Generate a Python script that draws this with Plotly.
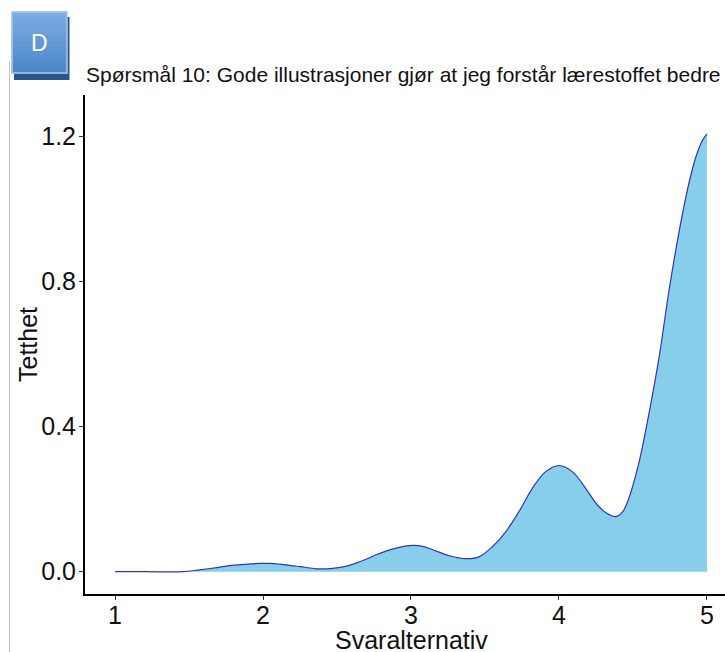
import plotly.graph_objects as go

# Density estimate of the answers to question 10 (Likert scale 1-5)
svar = [1.00, 1.20, 1.46, 1.57, 1.70, 1.80, 1.90, 1.98, 2.05, 2.11, 2.25, 2.36,
        2.47, 2.55, 2.61, 2.70, 2.76, 2.88, 2.99, 3.08, 3.15, 3.26, 3.37, 3.46,
        3.55, 3.64, 3.73, 3.82, 3.91, 4.00, 4.09, 4.18, 4.26, 4.32, 4.385, 4.43,
        4.47, 4.54, 4.61, 4.68, 4.74, 4.81, 4.88, 4.93, 4.97, 5.00]
tetthet = [0.000, 0.000, 0.000, 0.005, 0.012, 0.018, 0.021, 0.023, 0.023, 0.021,
           0.014, 0.008, 0.009, 0.014, 0.021, 0.035, 0.046, 0.063, 0.072, 0.070,
           0.060, 0.044, 0.036, 0.041, 0.069, 0.110, 0.166, 0.230, 0.276, 0.293,
           0.276, 0.230, 0.184, 0.162, 0.152, 0.165, 0.200, 0.300, 0.440, 0.600,
           0.766, 0.934, 1.075, 1.150, 1.190, 1.208]

x_ticks = [1, 2, 3, 4, 5]
y_ticks = [0.0, 0.4, 0.8, 1.2]
y_tick_labels = ["0.0", "0.4", "0.8", "1.2"]

title = "Spørsmål 10: Gode illustrasjoner gjør at jeg forstår lærestoffet bedre"
x_title = "Svaralternativ"
y_title = "Tetthet"
badge = "D"

W, H = 725, 652
L, R, T, B = 85, 0, 95, 58
FONT = "Liberation Sans, Arial, sans-serif"

fig = go.Figure()
fig.add_trace(go.Scatter(
    x=svar, y=tetthet, mode="lines", fill="tozeroy",
    fillcolor="#87CEEB", line=dict(color="#3434b4", width=1.2, shape="spline"),
    hoverinfo="skip", showlegend=False,
))

# pixel -> paper coordinate helpers for the decorations outside the plot area
pw, ph = W - L - R, H - T - B
def px(x):
    return (x - L) / pw
def py(y):
    return (H - B - y) / ph

shapes = []
# thin grey page rule on the far left
shapes.append(dict(type="line", xref="paper", yref="paper",
                   x0=px(9.5), x1=px(9.5), y0=py(61), y1=py(H + 5),
                   line=dict(color="#c4c4c4", width=1), layer="above"))
# badge shadow
shapes.append(dict(type="rect", xref="paper", yref="paper",
                   x0=px(14), x1=px(69.5), y0=py(80), y1=py(17),
                   fillcolor="#2a5587", line=dict(width=0), layer="above"))
# badge body with a vertical gradient built from thin bands
top_c, bot_c = (126, 172, 228), (76, 134, 200)
n = 24
y_top, y_bot = 11.5, 73
for i in range(n):
    t = i / (n - 1)
    c = tuple(int(round(a + (b - a) * t)) for a, b in zip(top_c, bot_c))
    ya = y_top + (y_bot - y_top) * i / n
    yb = y_top + (y_bot - y_top) * (i + 1) / n
    shapes.append(dict(type="rect", xref="paper", yref="paper",
                       x0=px(11.5), x1=px(67), y0=py(yb + 0.5), y1=py(ya),
                       fillcolor="rgb(%d,%d,%d)" % c, line=dict(width=0),
                       layer="above"))
shapes.append(dict(type="rect", xref="paper", yref="paper",
                   x0=px(12), x1=px(67), y0=py(73), y1=py(12),
                   fillcolor="rgba(0,0,0,0)",
                   line=dict(color="#a9c8ee", width=1.5), layer="above"))

annotations = [
    dict(text=badge, xref="paper", yref="paper", x=px(39.5), y=py(43),
         showarrow=False, xanchor="center", yanchor="middle",
         font=dict(family=FONT, size=23, color="white")),
    dict(text=title, xref="paper", yref="paper", x=px(84), y=py(75),
         showarrow=False, xanchor="left", yanchor="middle",
         font=dict(family=FONT, size=21, color="#111111")),
    # axis titles
    dict(text=x_title, xref="paper", yref="paper", x=px(411), y=py(640),
         showarrow=False, xanchor="center", yanchor="middle",
         font=dict(family=FONT, size=25, color="#111111")),
    dict(text=y_title, xref="paper", yref="paper", x=px(28), y=py(345),
         showarrow=False, xanchor="center", yanchor="middle", textangle=-90,
         font=dict(family=FONT, size=25, color="#111111")),
]

fig.update_layout(
    width=W, height=H,
    margin=dict(l=L, r=R, t=T, b=B, pad=0),
    paper_bgcolor="white", plot_bgcolor="white",
    font=dict(family=FONT, color="#111111"),
    shapes=shapes, annotations=annotations,
    xaxis=dict(
        range=[0.797, 5.122], tickmode="array", tickvals=x_ticks,
        ticktext=[str(v) for v in x_ticks],
        showgrid=False, zeroline=False,
        showline=True, linecolor="black", linewidth=2,
        ticks="outside", ticklen=4, tickwidth=1, tickcolor="#333333",
        ticklabelstandoff=-6,
        tickfont=dict(family=FONT, size=25, color="#111111"),
    ),
    yaxis=dict(
        range=[-0.0615, 1.315], tickmode="array", tickvals=y_ticks,
        ticktext=y_tick_labels,
        showgrid=False, zeroline=False,
        showline=True, linecolor="black", linewidth=2,
        ticks="outside", ticklen=4, tickwidth=1, tickcolor="#333333",
        ticklabelstandoff=-2,
        tickfont=dict(family=FONT, size=25, color="#111111"),
    ),
)

fig.write_html("out.html")
